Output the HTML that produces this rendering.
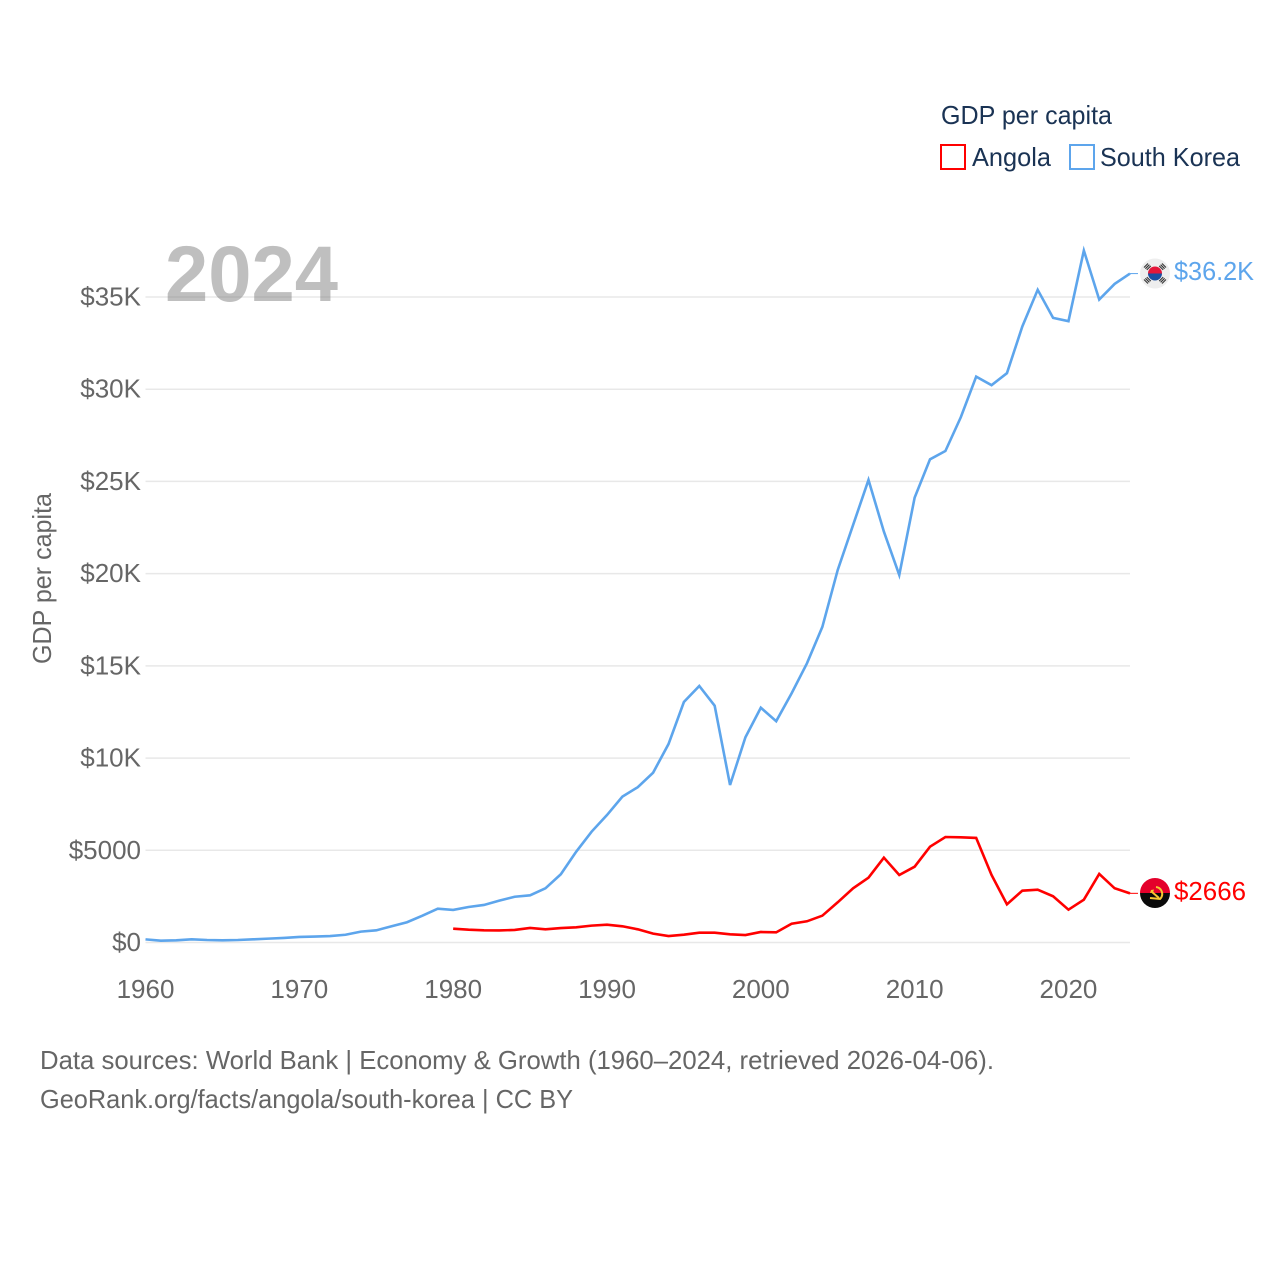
<!DOCTYPE html>
<html lang="en">
<head>
<meta charset="utf-8">
<title>GDP per capita: Angola and South Korea</title>
<style>
html,body{margin:0;padding:0;background:#fff;width:1280px;height:1280px;overflow:hidden}
svg{display:block}
text{font-family:"Liberation Sans",sans-serif}
.tick{font-size:26px;fill:#666}
.legend{font-size:26px;fill:#1a3354}
.foot{font-size:26px;fill:#666}
</style>
</head>
<body>
<svg id="chart" xmlns="http://www.w3.org/2000/svg" width="1280" height="1280" viewBox="0 0 1280 1280">
  <g id="grid"></g>
  <text x="165" y="301" font-size="79" font-weight="700" fill="#808080" fill-opacity="0.5" textLength="173" lengthAdjust="spacingAndGlyphs">2024</text>
  <g id="yticks"></g>
  <g id="xticks"></g>
  <text transform="translate(51,578.5) rotate(-90)" text-anchor="middle" class="tick" textLength="171" lengthAdjust="spacingAndGlyphs">GDP per capita</text>
  <g id="series"></g>

  <g>
    <text x="941" y="124" class="legend" textLength="171" lengthAdjust="spacingAndGlyphs">GDP per capita</text>
    <g>
      <rect x="941" y="145" width="24" height="24" fill="none" stroke="#ff0000" stroke-width="2"/>
      <text x="972" y="166" class="legend" textLength="79" lengthAdjust="spacingAndGlyphs">Angola</text>
    </g>
    <g>
      <rect x="1070" y="145" width="24" height="24" fill="none" stroke="#5da5ec" stroke-width="2"/>
      <text x="1100" y="166" class="legend" textLength="140" lengthAdjust="spacingAndGlyphs">South Korea</text>
    </g>
  </g>

  <g transform="translate(1155,273.5)">
    <circle r="15" fill="#eeeeee"/>
    <path d="M-7 0A7 7 0 0 1 7 0Z" fill="#e4173a"/>
    <path d="M-7 0A7 7 0 0 0 7 0Z" fill="#1a4fa3"/>
    <g stroke="#333" stroke-width="1.1" fill="none">
      <path d="M-11 -6L-7 -10M-9.6 -4.8L-5.6 -8.8M-8.2 -3.6L-4.2 -7.6"/>
      <path d="M11 -6L7 -10M9.6 -4.8L5.6 -8.8M8.2 -3.6L4.2 -7.6"/>
      <path d="M-11 6L-7 10M-9.6 4.8L-5.6 8.8M-8.2 3.6L-4.2 7.6"/>
      <path d="M11 6L7 10M9.6 4.8L5.6 8.8M8.2 3.6L4.2 7.6"/>
    </g>
  </g>
  <g transform="translate(1155,893)">
    <path d="M-15 0A15 15 0 0 1 15 0Z" fill="#e4002b"/>
    <path d="M-15 0A15 15 0 0 0 15 0Z" fill="#0a0a0a"/>
    <path d="M1 -6A7 7 0 0 1 5 6L-5 5" fill="none" stroke="#f7c531" stroke-width="2"/>
    <path d="M-3 -1L4 5" stroke="#f7c531" stroke-width="2"/>
    <path d="M-4 -3L-1 -3.5L-2 -0.5L-5 0Z" fill="#f7c531"/>
  </g>

  <text x="1174" y="280" font-size="26" fill="#5da5ec" textLength="80" lengthAdjust="spacingAndGlyphs">$36.2K</text>
  <text x="1174" y="900" font-size="26" fill="#ff0000" textLength="72" lengthAdjust="spacingAndGlyphs">$2666</text>

  <text x="40" y="1069" class="foot" textLength="954" lengthAdjust="spacingAndGlyphs">Data sources: World Bank | Economy &amp; Growth (1960–2024, retrieved 2026-04-06).</text>
  <text x="40" y="1108" class="foot" textLength="533" lengthAdjust="spacingAndGlyphs">GeoRank.org/facts/angola/south-korea | CC BY</text>
</svg>
<script>
const years = [1960,1961,1962,1963,1964,1965,1966,1967,1968,1969,
  1970,1971,1972,1973,1974,1975,1976,1977,1978,1979,
  1980,1981,1982,1983,1984,1985,1986,1987,1988,1989,
  1990,1991,1992,1993,1994,1995,1996,1997,1998,1999,
  2000,2001,2002,2003,2004,2005,2006,2007,2008,2009,
  2010,2011,2012,2013,2014,2015,2016,2017,2018,2019,
  2020,2021,2022,2023,2024];
const southKorea = [170,100,120,170,135,120,135,170,210,250,
  300,320,350,420,590,660,880,1100,1455,1835,
  1765,1925,2035,2270,2480,2560,2940,3700,4925,6010,
  6910,7910,8420,9210,10760,13040,13910,12840,8540,11130,
  12730,12000,13510,15140,17110,20200,22640,25080,22280,19930,
  24120,26200,26650,28480,30680,30220,30870,33400,35390,33870,
  33690,37520,34860,35710,36270];
const angola = [null,null,null,null,null,null,null,null,null,null,
  null,null,null,null,null,null,null,null,null,null,
  750,695,660,655,680,790,715,785,825,915,
  965,880,715,480,350,425,530,530,445,405,
  570,550,1020,1150,1455,2180,2940,3515,4600,3660,
  4110,5195,5720,5705,5670,3660,2070,2810,2865,2505,
  1780,2320,3715,2940,2666];
const yTickValues = [0,5000,10000,15000,20000,25000,30000,35000];
const yTickLabels = ["$0","$5000","$10K","$15K","$20K","$25K","$30K","$35K"];
const xTickValues = [1960,1970,1980,1990,2000,2010,2020];
const xTickLabels = ["1960","1970","1980","1990","2000","2010","2020"];

const NS = "http://www.w3.org/2000/svg";
const plotLeft = 145.5, plotRight = 1130, plotBottom = 942.5, pxPerDollar = 645.5 / 35000;
const xScale = function (year) {
  return plotLeft + (year - years[0]) * (plotRight - plotLeft) / (years[years.length - 1] - years[0]);
};
const yScale = function (value) {
  return plotBottom - value * pxPerDollar;
};

const gridGroup = document.getElementById("grid");
const yGroup = document.getElementById("yticks");
yTickValues.forEach(function (v, i) {
  const line = document.createElementNS(NS, "line");
  
  
  line.setAttribute("x1", plotLeft);
  line.setAttribute("x2", plotRight);
  line.setAttribute("y1", yScale(v));
  line.setAttribute("y2", yScale(v));
  line.setAttribute("stroke", "#e8e8e8");
  line.setAttribute("stroke-width", "1.5");
  gridGroup.appendChild(line);

  const label = document.createElementNS(NS, "text");
  
  
  label.setAttribute("x", 141);
  label.setAttribute("y", yScale(v) + 8.5);
  label.setAttribute("text-anchor", "end");
  label.setAttribute("class", "tick");
  label.textContent = yTickLabels[i];
  yGroup.appendChild(label);
});

const xGroup = document.getElementById("xticks");
xTickValues.forEach(function (v, i) {
  const label = document.createElementNS(NS, "text");
  
  
  label.setAttribute("x", xScale(v));
  label.setAttribute("y", 998);
  label.setAttribute("text-anchor", "middle");
  label.setAttribute("class", "tick");
  label.textContent = xTickLabels[i];
  xGroup.appendChild(label);
});

function linePath(values) {
  let d = "";
  values.forEach(function (v, i) {
    if (v === null) return;
    d += (d ? "L" : "M") + xScale(years[i]).toFixed(2) + " " + yScale(v).toFixed(2);
  });
  return d;
}
function lastPoint(values) {
  const i = values.length - 1;
  return [xScale(years[i]), yScale(values[i])];
}

const seriesGroup = document.getElementById("series");

const koreaLine = document.createElementNS(NS, "path");


koreaLine.setAttribute("d", linePath(southKorea));
koreaLine.setAttribute("fill", "none");
koreaLine.setAttribute("stroke", "#5da5ec");
koreaLine.setAttribute("stroke-width", "2.6");
koreaLine.setAttribute("stroke-linejoin", "miter");
seriesGroup.appendChild(koreaLine);

const angolaLine = document.createElementNS(NS, "path");


angolaLine.setAttribute("d", linePath(angola));
angolaLine.setAttribute("fill", "none");
angolaLine.setAttribute("stroke", "#ff0000");
angolaLine.setAttribute("stroke-width", "2.6");
angolaLine.setAttribute("stroke-linejoin", "miter");
seriesGroup.appendChild(angolaLine);

const koreaEnd = lastPoint(southKorea);
const koreaConnector = document.createElementNS(NS, "line");


koreaConnector.setAttribute("x1", koreaEnd[0]);
koreaConnector.setAttribute("x2", koreaEnd[0] + 8);
koreaConnector.setAttribute("y1", koreaEnd[1]);
koreaConnector.setAttribute("y2", koreaEnd[1]);
koreaConnector.setAttribute("stroke", "#5da5ec");
koreaConnector.setAttribute("stroke-width", "1");
seriesGroup.appendChild(koreaConnector);

const angolaEnd = lastPoint(angola);
const angolaConnector = document.createElementNS(NS, "line");


angolaConnector.setAttribute("x1", angolaEnd[0]);
angolaConnector.setAttribute("x2", angolaEnd[0] + 8);
angolaConnector.setAttribute("y1", angolaEnd[1]);
angolaConnector.setAttribute("y2", angolaEnd[1]);
angolaConnector.setAttribute("stroke", "#ff0000");
angolaConnector.setAttribute("stroke-width", "1");
seriesGroup.appendChild(angolaConnector);
</script>
</body>
</html>
